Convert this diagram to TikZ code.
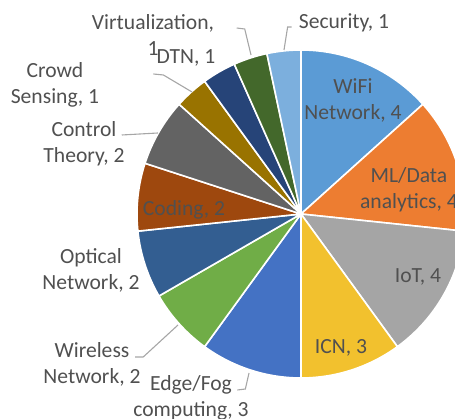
\documentclass[tikz,border=0pt]{standalone}
\usepackage{fontspec}
\setmainfont{Carlito}
\usepackage{tikz}

\definecolor{wificol}{HTML}{5B9BD5}
\definecolor{mlcol}{HTML}{ED7D31}
\definecolor{iotcol}{HTML}{A5A5A5}
\definecolor{icncol}{HTML}{F2C12E}
\definecolor{edgecol}{HTML}{4472C4}
\definecolor{wlscol}{HTML}{70AD47}
\definecolor{optcol}{HTML}{335E91}
\definecolor{codcol}{HTML}{9E480E}
\definecolor{ctlcol}{HTML}{636363}
\definecolor{crowdcol}{HTML}{997300}
\definecolor{virtcol}{HTML}{264478}
\definecolor{dtncol}{HTML}{43682B}
\definecolor{seccol}{HTML}{7CAFDD}
\definecolor{lblgray}{HTML}{505050}
\definecolor{leadgray}{HTML}{A6A6A6}

\tikzset{
  slice/.style={draw=white, line width=1.6pt, line join=round},
  lbl/.style={font=\fontsize{21.6}{26}\selectfont, text=lblgray, align=center, inner xsep=3pt, inner ysep=1pt},
  leader/.style={draw=leadgray, line width=1.1pt}
}

\begin{document}
\begin{tikzpicture}[x=1pt,y=1pt]
	\useasboundingbox (0,0) rectangle (455,419);
	\clip (0,0) rectangle (455,419);
	\coordinate (c) at (301,205);
	% slices, 12 degrees per unit, clockwise from the top
	\filldraw[slice, fill=wificol] (c) -- ++(90:164pt) arc (90:42:164pt) -- cycle;
	\filldraw[slice, fill=mlcol] (c) -- ++(42:164pt) arc (42:-6:164pt) -- cycle;
	\filldraw[slice, fill=iotcol] (c) -- ++(-6:164pt) arc (-6:-54:164pt) -- cycle;
	\filldraw[slice, fill=icncol] (c) -- ++(-54:164pt) arc (-54:-90:164pt) -- cycle;
	\filldraw[slice, fill=edgecol] (c) -- ++(-90:164pt) arc (-90:-126:164pt) -- cycle;
	\filldraw[slice, fill=wlscol] (c) -- ++(-126:164pt) arc (-126:-150:164pt) -- cycle;
	\filldraw[slice, fill=optcol] (c) -- ++(-150:164pt) arc (-150:-174:164pt) -- cycle;
	\filldraw[slice, fill=codcol] (c) -- ++(-174:164pt) arc (-174:-198:164pt) -- cycle;
	\filldraw[slice, fill=ctlcol] (c) -- ++(-198:164pt) arc (-198:-222:164pt) -- cycle;
	\filldraw[slice, fill=crowdcol] (c) -- ++(-222:164pt) arc (-222:-234:164pt) -- cycle;
	\filldraw[slice, fill=virtcol] (c) -- ++(-234:164pt) arc (-234:-246:164pt) -- cycle;
	\filldraw[slice, fill=dtncol] (c) -- ++(-246:164pt) arc (-246:-258:164pt) -- cycle;
	\filldraw[slice, fill=seccol] (c) -- ++(-258:164pt) arc (-258:-270:164pt) -- cycle;

	% labels
	\node[lbl] (sec) at (344,396) {Security, 1};
	\node[lbl] (virt) at (153,383.5) {Virtualization,\\1};
	\node[lbl] (dtn) at (186,361.5) {DTN, 1};
	\node[lbl] (crowd) at (55,334) {Crowd\\Sensing, 1};
	\node[lbl] (ctl) at (84,275) {Control\\Theory, 2};
	\node[lbl] (cod) at (184,209) {Coding, 2};
	\node[lbl] (wifi) at (353,319) {WiFi\\Network, 4};
	\node[lbl] (ml) at (409,229) {ML/Data\\analytics, 4};
	\node[lbl] (iot) at (418,142) {IoT, 4};
	\node[lbl] (icn) at (341,71) {ICN, 3};
	\node[lbl] (edge) at (191,21.5) {Edge/Fog\\computing, 3};
	\node[lbl] (wls) at (92,55) {Wireless\\Network, 2};
	\node[lbl] (opt) at (91,149) {Optical\\Network, 2};

	% leader lines
	\coordinate (sec-tip) at (284,369);
	\coordinate (dtn-tip) at (251,364);
	\coordinate (crowd-tip) at (192,327);
	\coordinate (ctl-tip) at (158,286);
	\coordinate (wls-tip) at (178,94);
	\coordinate (edge-tip) at (249,46);
	\draw[leader] ([shift={(-4,-4)}]sec.west) -- ++(-4,0) -- (sec-tip);
	\draw[leader] ([shift={(19.5,7.5)}]virt.east) -- ++(8,-1) -- (dtn-tip);
	\draw[leader] ([shift={(51,11)}]crowd.east) -- ++(10,-1) -- (crowd-tip);
	\draw[leader] ([shift={(-6,9)}]ctl.east) -- (ctl-tip);
	\draw[leader] ([shift={(-8.5,7)}]wls.east) -- ++(8,0) -- (wls-tip);
	\draw[leader] ([shift={(-14.5,7.5)}]edge.east) -- ++(8,1) -- (edge-tip);
\end{tikzpicture}
\end{document}
